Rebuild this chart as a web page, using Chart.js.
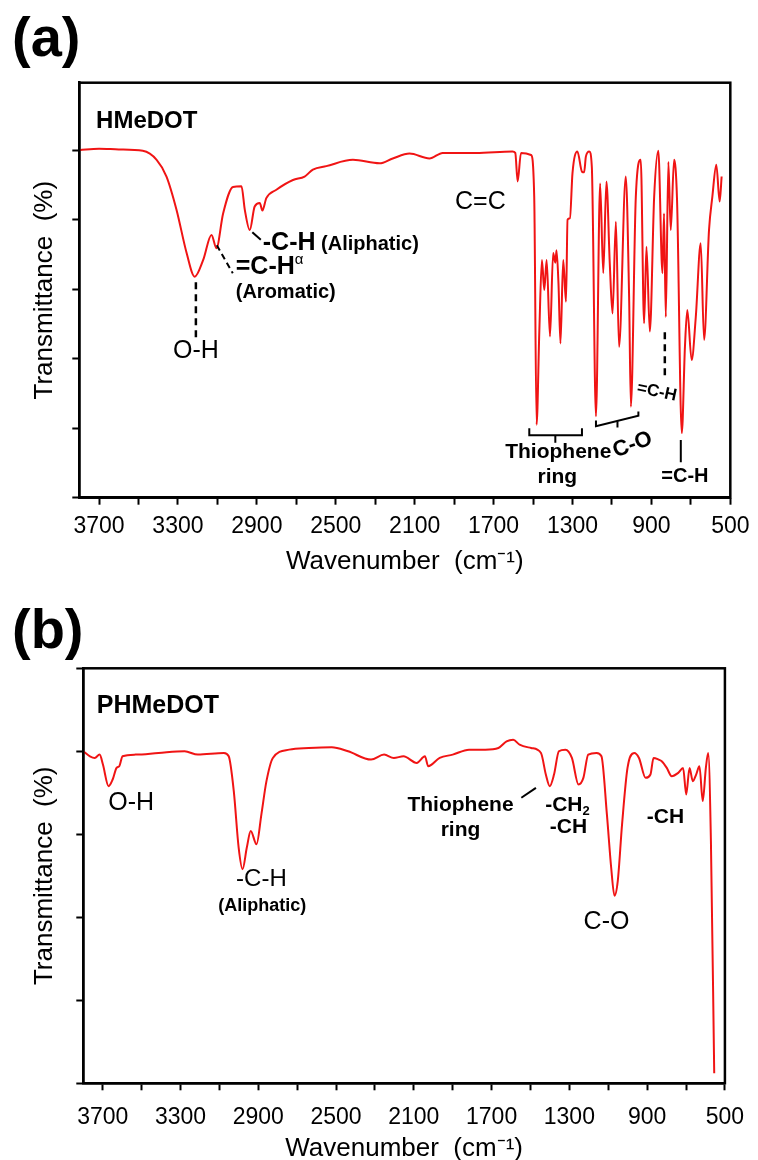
<!DOCTYPE html>
<html>
<head>
<meta charset="utf-8">
<script src="https://cdn.jsdelivr.net/npm/chart.js@4.4.1/dist/chart.umd.min.js"></script>
<style>
    html, body { margin: 0; padding: 0; background: #fff; overflow: hidden; }
    canvas { position: absolute; left: 0; }
    #panelA { top: 0; }
    #panelB { top: 580px; }
</style>
</head>
<body>
<canvas id="panelA" width="758" height="580"></canvas>
<canvas id="panelB" width="758" height="584"></canvas>
<script>
// HMeDOT monomer spectrum
const hmedotWavenumber = [
    3800, 3700, 3600, 3478, 3408, 3358, 3307, 3256, 3215, 3172,
    3130, 3105, 3071, 3021, 2978, 2961, 2936, 2911, 2885, 2872,
    2852, 2801, 2717, 2658, 2616, 2548, 2413, 2278, 2211, 2126,
    2025, 1958, 1789, 1604, 1590, 1578, 1561, 1510, 1494, 1482,
    1468, 1455, 1443, 1431, 1414, 1398, 1387, 1381, 1371, 1361,
    1347, 1333, 1325, 1313, 1300, 1275, 1252, 1241, 1232, 1215,
    1202, 1181, 1160, 1144, 1128, 1111, 1097, 1080, 1064, 1030,
    1013, 1004, 979, 954, 937, 925, 908, 886, 865, 844,
    836, 827, 814, 802, 785, 770, 746, 730, 718, 696,
    675, 650, 633, 608, 591, 571, 554, 544
];
const hmedotTransmittance = [
    5.00, 5.02, 5.01, 4.99, 4.86, 4.62, 4.14, 3.52, 3.18, 3.42,
    3.78, 3.59, 4.09, 4.47, 4.48, 4.14, 3.85, 4.19, 4.24, 4.13,
    4.31, 4.43, 4.57, 4.62, 4.72, 4.77, 4.86, 4.81, 4.88, 4.95,
    4.88, 4.96, 4.96, 4.98, 4.96, 4.55, 4.96, 4.93, 4.33, 1.05,
    2.41, 3.42, 2.99, 3.42, 2.32, 3.52, 3.38, 3.56, 3.08, 2.22,
    3.42, 2.82, 4.00, 4.02, 4.67, 4.98, 4.69, 4.68, 4.91, 4.98,
    4.76, 1.17, 4.52, 3.23, 4.55, 3.37, 2.65, 3.97, 2.17, 4.62,
    2.89, 1.31, 4.33, 4.86, 2.51, 3.61, 2.39, 4.33, 4.99, 3.23,
    4.09, 2.60, 4.83, 3.85, 4.86, 4.28, 0.93, 2.17, 2.70, 1.98,
    2.60, 3.66, 2.27, 3.85, 4.33, 4.79, 4.26, 4.62
];

// PHMeDOT polymer spectrum
const phmedotWavenumber = [
    3800, 3766, 3741, 3716, 3699, 3670, 3649, 3629, 3615, 3598,
    3531, 3413, 3279, 3211, 3077, 3052, 3026, 3001, 2981, 2959,
    2939, 2909, 2884, 2858, 2825, 2741, 2640, 2522, 2438, 2320,
    2253, 2203, 2153, 2085, 2043, 2026, 1967, 1900, 1816, 1732,
    1665, 1623, 1589, 1556, 1497, 1446, 1421, 1401, 1379, 1354,
    1320, 1287, 1253, 1228, 1203, 1160, 1135, 1107, 1085, 1068,
    1051, 1029, 1001, 967, 942, 908, 883, 867, 841, 825,
    799, 774, 740, 715, 699, 682, 665, 648, 631, 614,
    598, 586, 572, 555
];
const phmedotTransmittance = [
    4.00, 3.94, 3.92, 3.96, 3.84, 3.58, 3.66, 3.80, 3.82, 3.94,
    3.96, 3.98, 4.00, 3.96, 3.98, 3.94, 3.52, 2.84, 2.58, 2.84,
    3.04, 2.88, 3.24, 3.64, 3.92, 4.02, 4.04, 4.05, 4.00, 3.90,
    3.96, 3.92, 3.94, 3.86, 3.94, 3.82, 3.92, 3.96, 4.02, 4.02,
    4.04, 4.12, 4.14, 4.08, 4.04, 3.98, 3.72, 3.58, 3.72, 4.00,
    4.02, 3.92, 3.60, 3.68, 3.96, 3.98, 3.94, 3.24, 2.60, 2.26,
    2.44, 3.12, 3.80, 3.98, 3.92, 3.68, 3.72, 3.92, 3.90, 3.88,
    3.80, 3.70, 3.74, 3.80, 3.48, 3.80, 3.64, 3.72, 3.82, 3.40,
    3.80, 3.98, 2.92, 0.12
];

// tick marks every 200 cm-1, labels every 400 cm-1
const xTickValues = [3700, 3500, 3300, 3100, 2900, 2700, 2500, 2300, 2100, 1900, 1700, 1500, 1300, 1100, 900, 700, 500];
const xTickLabels = [3700, 3300, 2900, 2500, 2100, 1700, 1300, 900, 500];

const FAMILY = '"Liberation Sans", Arial, Helvetica, sans-serif';
const F = (size, bold) => `${bold ? 'bold ' : ''}${size}px ${FAMILY}`;
Chart.defaults.font.family = FAMILY;
Chart.defaults.color = '#000';

// text and leader lines placed in data units (wavenumber, transmittance)
const annotationPlugin = {
    id: 'annotations',
    afterDatasetsDraw(chart, args, opts) {
        const { ctx, scales: { x, y } } = chart;
        ctx.save();
        ctx.strokeStyle = '#000';
        (opts.lines || []).forEach(l => {
            ctx.beginPath();
            ctx.setLineDash(l.dash || []);
            ctx.lineWidth = l.width || 2;
            l.points.forEach(([w, t], i) => {
                const px = x.getPixelForValue(w), py = y.getPixelForValue(t);
                if (i) ctx.lineTo(px, py); else ctx.moveTo(px, py);
            });
            ctx.stroke();
        });
        ctx.setLineDash([]);
        ctx.fillStyle = '#000';
        ctx.textBaseline = 'middle';
        ctx.textAlign = 'left';
        (opts.labels || []).forEach(lb => {
            let total = 0;
            lb.parts.forEach(p => { ctx.font = p.font; p.w = ctx.measureText(p.text).width; total += p.w; });
            ctx.save();
            ctx.translate(x.getPixelForValue(lb.wn), y.getPixelForValue(lb.t));
            if (lb.rotate) ctx.rotate(lb.rotate * Math.PI / 180);
            let cx = lb.align === 'left' ? 0 : -total / 2;
            lb.parts.forEach(p => { ctx.font = p.font; ctx.fillText(p.text, cx, p.dy || 0); cx += p.w; });
            ctx.restore();
        });
        ctx.restore();
    }
};

// closed box round the plot and the panel letter
const framePlugin = {
    id: 'frame',
    afterDraw(chart, args, opts) {
        const { ctx, chartArea: a } = chart;
        ctx.save();
        ctx.strokeStyle = '#000';
        ctx.lineWidth = 2.5;
        ctx.strokeRect(a.left, a.top, a.right - a.left, a.bottom - a.top);
        ctx.fillStyle = '#000';
        ctx.font = F(56, true);
        ctx.textBaseline = 'alphabetic';
        ctx.fillText(opts.letter, 12, opts.letterY);
        ctx.restore();
    }
};

function makeChart(id, wavenumbers, values, o) {
    const points = wavenumbers.map((w, i) => ({ x: w, y: values[i] }));
    return new Chart(document.getElementById(id), {
        type: 'line',
        data: {
            datasets: [{
                data: points,
                borderColor: 'rgb(240,20,20)',
                borderWidth: 2,
                pointRadius: 0,
                cubicInterpolationMode: 'monotone',
                fill: false
            }]
        },
        options: {
            responsive: false,
            animation: false,
            layout: { padding: { left: 0, top: o.top, right: o.right, bottom: 0 } },
            plugins: {
                legend: { display: false },
                tooltip: { enabled: false },
                annotations: { labels: o.labels, lines: o.lines },
                frame: { letter: o.letter, letterY: o.letterY }
            },
            scales: {
                x: {
                    type: 'linear',
                    reverse: true,
                    min: 500,
                    max: 3800,
                    afterFit: s => { s.height = o.xHeight; },
                    afterBuildTicks: s => { s.ticks = xTickValues.map(v => ({ value: v })); },
                    ticks: {
                        autoSkip: false,
                        maxRotation: 0,
                        padding: o.tickPad,
                        color: '#000',
                        font: { size: 23 },
                        callback: v => xTickLabels.includes(v) ? String(v) : ''
                    },
                    grid: { drawOnChartArea: false, tickLength: 7, tickWidth: 2, tickColor: '#000' },
                    border: { color: '#000', width: 2.5 },
                    title: {
                        display: true,
                        text: 'Wavenumber  (cm⁻¹)',
                        color: '#000',
                        font: { size: 26 },
                        padding: { top: 0, bottom: o.titlePad }
                    }
                },
                y: {
                    min: 0,
                    max: o.yMax,
                    afterFit: s => { s.width = o.yWidth; },
                    afterBuildTicks: s => { s.ticks = s.ticks.filter(t => Number.isInteger(t.value)); },
                    ticks: { stepSize: 1, callback: () => '' },
                    grid: { drawOnChartArea: false, tickLength: 7, tickWidth: 2, tickColor: '#000' },
                    border: { color: '#000', width: 2.5 },
                    title: {
                        display: true,
                        text: 'Transmittance  (%)',
                        color: '#000',
                        font: { size: 26 },
                        padding: { top: 29, bottom: 0 }
                    }
                }
            }
        },
        plugins: [annotationPlugin, framePlugin]
    });
}

makeChart('panelA', hmedotWavenumber, hmedotTransmittance, {
    top: 82.7, right: 26.3, yWidth: 79.3, xHeight: 82.3, yMax: 5.97,
    tickPad: 8.5, titlePad: 2.4, letter: '(a)', letterY: 56,
    labels: [
        { wn: 3715, t: 5.42, align: 'left', parts: [{ text: 'HMeDOT', font: F(24, true) }] },
        { wn: 1767, t: 4.25, parts: [{ text: 'C=C', font: F(25) }] },
        { wn: 2870, t: 3.66, align: 'left', parts: [
            { text: '-C-H', font: F(25, true) },
            { text: ' (Aliphatic)', font: F(20, true), dy: 1 }] },
        { wn: 3007, t: 3.31, align: 'left', parts: [
            { text: '=C-H', font: F(25, true) },
            { text: 'α', font: F(15), dy: -8 }] },
        { wn: 3007, t: 2.95, align: 'left', parts: [{ text: '(Aromatic)', font: F(20, true) }] },
        { wn: 3209, t: 2.11, parts: [{ text: 'O-H', font: F(25) }] },
        { wn: 1372, t: 0.66, parts: [{ text: 'Thiophene', font: F(21, true) }] },
        { wn: 1377, t: 0.30, parts: [{ text: 'ring', font: F(21, true) }] },
        { wn: 995, t: 0.76, rotate: -20, parts: [{ text: 'C-O', font: F(22, true) }] },
        { wn: 872, t: 1.52, rotate: 12, parts: [{ text: '=C-H', font: F(17, true) }] },
        { wn: 730, t: 0.31, parts: [{ text: '=C-H', font: F(20, true) }] }
    ],
    lines: [
        { points: [[2923, 3.82], [2880, 3.71]] },
        { points: [[3103, 3.63], [3022, 3.23]], dash: [6, 4] },
        { points: [[3209, 3.10], [3209, 2.30]], dash: [7, 5], width: 2.5 },
        { points: [[1519, 1.00], [1519, 0.90], [1252, 0.90], [1252, 1.00]] },
        { points: [[1387, 0.90], [1387, 0.79]] },
        { points: [[1181, 1.11], [1181, 1.03], [966, 1.18], [966, 1.24]] },
        { points: [[1072, 1.10], [1072, 1.01]] },
        { points: [[832, 2.38], [832, 1.76]], dash: [7, 5], width: 2.5 },
        { points: [[751, 0.83], [751, 0.51]] }
    ]
});

makeChart('panelB', phmedotWavenumber, phmedotTransmittance, {
    top: 88.3, right: 22, yWidth: 83.3, xHeight: 80.7, yMax: 5,
    tickPad: 13.9, titlePad: 0, letter: '(b)', letterY: 68,
    labels: [
        { wn: 3731, t: 4.54, align: 'left', parts: [{ text: 'PHMeDOT', font: F(25, true) }] },
        { wn: 3554, t: 3.38, parts: [{ text: 'O-H', font: F(25) }] },
        { wn: 2884, t: 2.46, parts: [{ text: '-C-H', font: F(24) }] },
        { wn: 2879, t: 2.13, parts: [{ text: '(Aliphatic)', font: F(18, true) }] },
        { wn: 1860, t: 3.35, parts: [{ text: 'Thiophene', font: F(21, true) }] },
        { wn: 1860, t: 3.05, parts: [{ text: 'ring', font: F(21, true) }] },
        { wn: 1310, t: 3.35, parts: [
            { text: '-CH', font: F(21, true) },
            { text: '2', font: F(13, true), dy: 6 }] },
        { wn: 1305, t: 3.09, parts: [{ text: '-CH', font: F(21, true) }] },
        { wn: 1109, t: 1.94, parts: [{ text: 'C-O', font: F(25) }] },
        { wn: 806, t: 3.21, parts: [{ text: '-CH', font: F(21, true) }] }
    ],
    lines: [
        { points: [[1547, 3.44], [1472, 3.56]] }
    ]
});
</script>
</body>
</html>
